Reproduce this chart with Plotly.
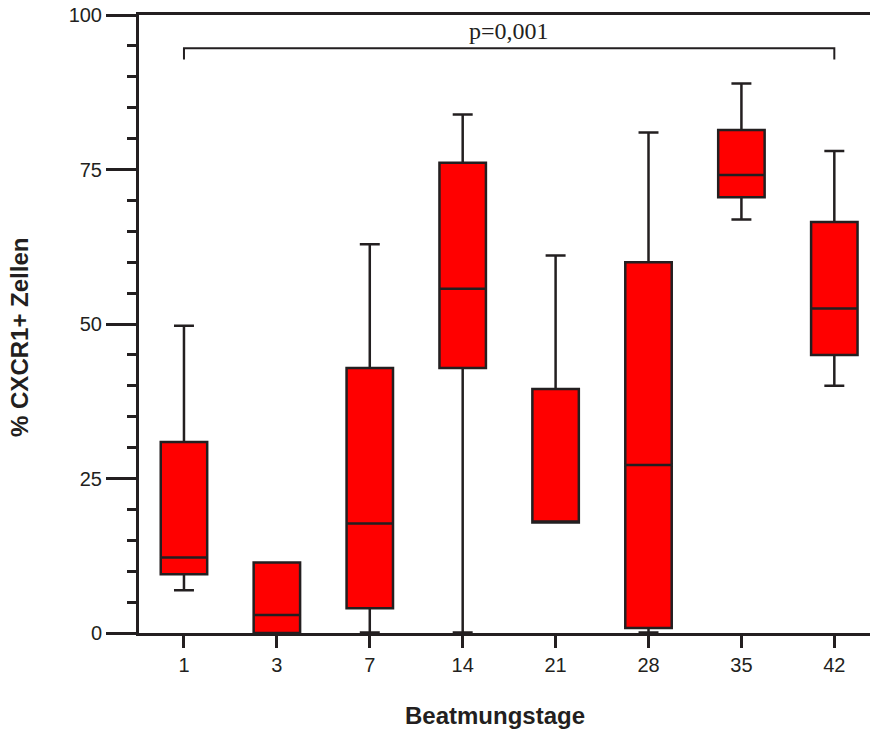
import plotly.graph_objects as go

# Data
days = ["1", "3", "7", "14", "21", "28", "35", "42"]
lower = [6.9, 0.0, 0.1, 0.1, 17.9, 0.1, 66.9, 40.0]
q1 = [9.5, 0.0, 4.0, 42.9, 17.9, 0.8, 70.5, 45.0]
median = [12.2, 2.9, 17.7, 55.7, 17.9, 27.2, 74.1, 52.5]
q3 = [30.9, 11.4, 42.9, 76.1, 39.5, 60.0, 81.4, 66.5]
upper = [49.7, 11.4, 62.9, 83.9, 61.1, 81.0, 88.9, 78.0]
y_ticks = [0, 25, 50, 75, 100]
p_text = "p=0,001"
x_title = "Beatmungstage"
y_title = "% CXCR1+ Zellen"

ink = "#231f20"
pos = list(range(len(days)))

fig = go.Figure()
fig.add_trace(go.Box(
    x=pos, q1=q1, median=median, q3=q3,
    lowerfence=lower, upperfence=upper,
    width=0.5, whiskerwidth=0.43,
    fillcolor="#ff0000",
    line=dict(color=ink, width=2.5),
    boxpoints=False, showlegend=False, hoverinfo="skip",
))

# significance bracket (category 1 to 42)
br_y, leg_y = 94.6, 92.8
fig.add_trace(go.Scatter(
    x=[pos[0], pos[0], pos[-1], pos[-1]],
    y=[leg_y, br_y, br_y, leg_y],
    mode="lines", line=dict(color=ink, width=2),
    showlegend=False, hoverinfo="skip",
))
fig.add_annotation(x=(pos[0] + pos[-1]) / 2, y=br_y, text=p_text,
                   showarrow=False, yanchor="bottom", yshift=2,
                   font=dict(family="Liberation Serif, Times New Roman, serif", size=24, color=ink))

fig.add_annotation(xref="paper", yref="paper", x=0.487, y=-0.1327, text="<b>%s</b>" % x_title,
                   showarrow=False, xanchor="center", yanchor="middle",
                   font=dict(family="Liberation Sans, Arial, sans-serif", size=24, color=ink))
fig.add_annotation(xref="paper", yref="paper", x=-0.1628, y=0.479, text="<b>%s</b>" % y_title,
                   showarrow=False, xanchor="center", yanchor="middle", textangle=-90,
                   font=dict(family="Liberation Sans, Arial, sans-serif", size=24, color=ink))

fig.update_layout(
    width=870, height=731,
    margin=dict(l=139, r=0, t=15, b=98),
    plot_bgcolor="white", paper_bgcolor="white",
    font=dict(family="Liberation Sans, Arial, sans-serif", size=20, color=ink),
    xaxis=dict(
        range=[-0.484, 7.384], tickmode="array", tickvals=pos, ticktext=days,
        showgrid=False, zeroline=False, showline=True, linecolor=ink, linewidth=3,
        mirror=True, ticks="outside", ticklen=12, tickwidth=3, tickcolor=ink,
    ),
    yaxis=dict(
        range=[0, 100], tickmode="array", tickvals=y_ticks,
        showgrid=False, zeroline=False, showline=True, linecolor=ink, linewidth=3,
        ticks="outside", ticklen=30, tickwidth=3, tickcolor=ink,
        minor=dict(ticks="outside", ticklen=9, tickwidth=3, tickcolor=ink, dtick=5, tick0=0, showgrid=False),
    ),
)

fig.write_html("out.html")
